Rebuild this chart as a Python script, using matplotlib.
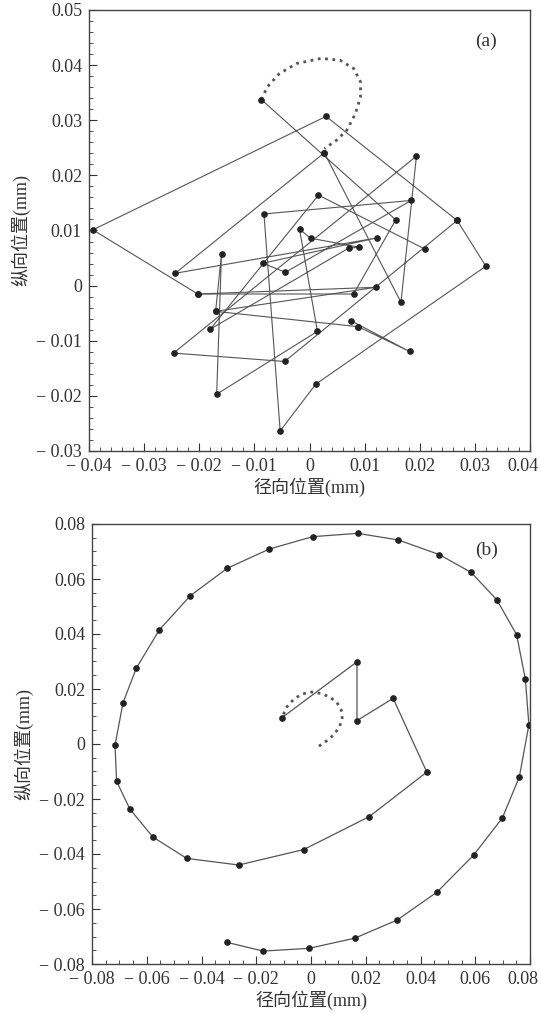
import matplotlib
matplotlib.use("Agg")
import matplotlib.pyplot as plt
from matplotlib.ticker import MultipleLocator, FixedLocator, FixedFormatter
import numpy as np

# ---------------- Panel (a) data ----------------
# dotted arc (small step points)
a_arc_x = [-0.00876, -0.00764, -0.00545, -0.00232, 0.00207, 0.00551, 0.00801, 0.00926, 0.00926, 0.00833, 0.00676, 0.00488, 0.00269]
a_arc_y = [0.03376, 0.03606, 0.03848, 0.04030, 0.04121, 0.04091, 0.03939, 0.03697, 0.03424, 0.03121, 0.02818, 0.02636, 0.02485]
# solid path pieces (big dots)
a_x = [0.00269, 0.01659, 0.01940, -0.02466, -0.00451, 0.02679, 0.00300, -0.03930, -0.02028, 0.00800, 0.01565, -0.00876]
a_y = [0.02410, -0.00303, 0.02350, -0.01224, -0.01376, 0.01182, 0.03070, 0.01012, -0.00152, -0.00152, 0.01194, 0.03376]
a_x2 = [0.00883, -0.01703, 0.01208, -0.02028]
a_y2 = [-0.00745, -0.00467, -0.00030, -0.00152]
a_x3 = [0.02097, 0.00163, -0.01797, 0.00708, 0.00895, 0.00019, -0.00181, 0.00144, -0.01684, -0.01596, -0.01703]
a_y3 = [0.00661, 0.01642, -0.00788, 0.00679, 0.00697, 0.00860, 0.01024, -0.00830, -0.01970, 0.00576, -0.00467]
a_x4 = [0.02679, 0.03199, 0.00113, -0.00532, -0.00826, 0.01847, -0.00438, -0.00845, 0.01227, -0.02435, 0.00269]
a_y4 = [0.01182, 0.00352, -0.01788, -0.02636, 0.01300, 0.01545, 0.00242, 0.00406, 0.00867, 0.00224, 0.02410]
a_x5 = [0.00751, 0.01815, 0.00883]
a_y5 = [-0.00636, -0.01194, -0.00745]

# ---------------- Panel (b) data ----------------
b_arc_x = [0.0029, 0.0055, 0.0085, 0.0105, 0.0114, 0.0110, 0.0094, 0.0066, 0.0035, 0.0002, -0.0032, -0.0062, -0.0088, -0.0107]
b_arc_y = [-0.0008, 0.0010, 0.0035, 0.0065, 0.0095, 0.0125, 0.0152, 0.0172, 0.0184, 0.0189, 0.0182, 0.0164, 0.0135, 0.0095]
b_x = [-0.0107, 0.0168, 0.0168, 0.0300, 0.0423, 0.0213, -0.0027, -0.0264, -0.0454, -0.0578, -0.0662, -0.0710, -0.0716,
       -0.0687, -0.0638, -0.0554, -0.0441, -0.0306, -0.0152, 0.0006, 0.0170, 0.0319, 0.0468, 0.0585, 0.0679,
       0.0751, 0.0783, 0.0796, 0.0761, 0.0699, 0.0594, 0.0461, 0.0315, 0.0160, -0.0007, -0.0175, -0.0308]
b_y = [0.0095, 0.0299, 0.0085, 0.0166, -0.0102, -0.0264, -0.0384, -0.0440, -0.0416, -0.0338, -0.0236, -0.0136, -0.0005,
       0.0149, 0.0276, 0.0415, 0.0539, 0.0639, 0.0709, 0.0754, 0.0766, 0.0742, 0.0689, 0.0624, 0.0524,
       0.0398, 0.0236, 0.0070, -0.0120, -0.0269, -0.0404, -0.0538, -0.0640, -0.0706, -0.0743, -0.0753, -0.0721]

# tick values
a_xticks = [-0.04, -0.03, -0.02, -0.01, 0.0, 0.01, 0.02, 0.03, 0.04]
a_yticks = [-0.03, -0.02, -0.01, 0.0, 0.01, 0.02, 0.03, 0.04, 0.05]
b_ticks = [-0.08, -0.06, -0.04, -0.02, 0.0, 0.02, 0.04, 0.06, 0.08]

W, H = 541, 1013
fig = plt.figure(figsize=(W / 100, H / 100), dpi=100)
fig.patch.set_facecolor("white")

serif = ["Liberation Serif", "DejaVu Serif"]
cjk = ["Liberation Serif", "Noto Sans CJK SC"]
line_c = "#555555"
dot_c = "#222222"
txt_c = "#333333"
LABEL_PAD = 5


def fmt(v):
    if abs(v) < 1e-12:
        return "0"
    s = "%.2f" % abs(v)
    return ("\u2212 " + s) if v < 0 else s


def style(ax, xlim, ylim, xt, yt, xmin, ymin, tag, tagxy):
    xl = [fmt(v) for v in xt]
    last = xl[-1]
    xl[-1] = ""
    ax.xaxis.set_major_locator(FixedLocator(xt))
    ax.xaxis.set_major_formatter(FixedFormatter(xl))
    ax.yaxis.set_major_locator(FixedLocator(yt))
    ax.yaxis.set_major_formatter(FixedFormatter([fmt(v) for v in yt]))
    ax.xaxis.set_minor_locator(MultipleLocator(xmin))
    ax.yaxis.set_minor_locator(MultipleLocator(ymin))
    ax.set_xlim(*xlim)
    ax.set_ylim(*ylim)
    ax.tick_params(which="both", direction="in", top=False, right=False, colors="#333333")
    ax.tick_params(which="major", length=6, width=0.8, labelsize=13, pad=LABEL_PAD)
    ax.tick_params(which="minor", length=3, width=0.6)
    for lab in ax.get_xticklabels() + ax.get_yticklabels():
        lab.set_family(serif)
        lab.set_color(txt_c)
    for sp in ax.spines.values():
        sp.set_color("#444444")
        sp.set_linewidth(1.0)
    ax.set_xlabel("径向位置(mm)", family=cjk, fontsize=13, color=txt_c, labelpad=2)
    ax.set_ylabel("纵向位置(mm)", family=cjk, fontsize=13, color=txt_c, labelpad=4)
    ax.text(tagxy[0], tagxy[1], tag, transform=ax.transAxes, family=serif, fontsize=14,
            color=txt_c, ha="center", va="center")
    # rightmost x label kept on the canvas, same baseline as the other tick labels
    ax.annotate(last, xy=(1.0, 0.0), xycoords="axes fraction", xytext=(-5, -LABEL_PAD),
                textcoords="offset points", ha="center", va="top", family=serif,
                fontsize=13, color=txt_c)


# Panel (a)
axa = fig.add_axes([89 / W, 1 - 451 / H, 441 / W, 441 / H])
axa.plot(a_arc_x, a_arc_y, linestyle=":", color=line_c, lw=2.0)
for xs, ys in [(a_x, a_y), (a_x2, a_y2), (a_x3, a_y3), (a_x4, a_y4), (a_x5, a_y5)]:
    axa.plot(xs, ys, "-", color=line_c, lw=0.8)
    axa.plot(xs, ys, "o", color=dot_c, ms=3.8, ls="none")
style(axa, (-0.04, 0.04), (-0.03, 0.05), a_xticks, a_yticks, 0.002, 0.002, "(a)", (0.9, 0.93))

# Panel (b)
axb = fig.add_axes([92 / W, 1 - 964 / H, 438 / W, 440 / H])
axb.plot(b_arc_x, b_arc_y, linestyle=":", color=line_c, lw=2.0)
axb.plot(b_x, b_y, "-", color=line_c, lw=0.9)
axb.plot(b_x, b_y, "o", color=dot_c, ms=3.8, ls="none")
style(axb, (-0.08, 0.08), (-0.08, 0.08), b_ticks, b_ticks, 0.005, 0.005, "(b)", (0.9, 0.94))

fig.savefig("out.png", dpi=100)
